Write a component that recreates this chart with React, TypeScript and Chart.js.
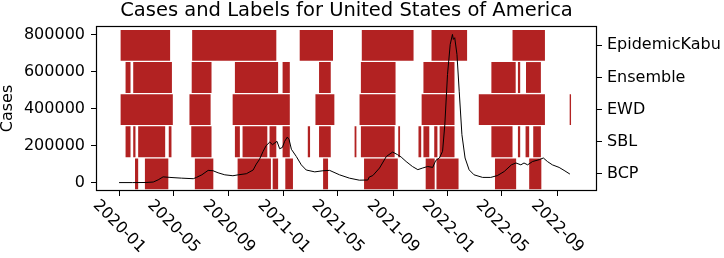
import React, { useEffect, useRef } from 'react';
import { Chart, registerables } from 'chart.js';

Chart.register(...registerables);

const FONT = '"DejaVu Sans", "Liberation Sans", sans-serif';

const chartTitle = 'Cases and Labels for United States of America';
const leftAxisTitle = 'Cases';
const rowLabels = ['BCP', 'SBL', 'EWD', 'Ensemble', 'EpidemicKabu'];
const caseTicks = [0, 200000, 400000, 600000, 800000];
const xTickLabels = ['2020-01', '2020-05', '2020-09', '2021-01', '2021-05', '2021-09', '2022-01', '2022-05', '2022-09'];
const xRange = ['2019-11-13', '2022-11-26'];

// Daily cases (7-day average), days counted from 2020-01-01
const caseDays = [
  0, 30, 60, 76, 87, 98, 113, 139, 165, 172, 184, 198, 209, 220, 235, 253, 265, 283, 298,
  305, 312, 320, 327, 335, 341, 351, 357, 363, 368, 374, 378, 383, 394, 405, 416, 435, 453,
  468, 490, 512, 534, 553, 556, 564, 579, 594, 608, 619, 627, 638, 652, 664, 675, 686, 697,
  704, 712, 719, 724, 730, 736, 741, 743, 746, 751, 756, 762, 769, 778, 789, 808, 826, 841,
  856, 872, 882, 893, 900, 908, 919, 934, 943, 952, 963, 978, 989, 1002,
];
const caseValues = [
  0, 0, 500, 3000, 15000, 31000, 28000, 24000, 21000, 28000, 42000, 66000, 64000, 53000, 42000, 37000, 42000, 48000, 68000,
  100000, 125000, 168000, 200000, 219000, 205000, 223000, 183000, 190000, 223000, 246000, 232000, 180000, 141000, 96000, 68000, 58000, 64000,
  66000, 42000, 24000, 13000, 14000, 30000, 38000, 79000, 141000, 165000, 151000, 138000, 114000, 87000, 70000, 79000, 87000, 82000,
  120000, 133000, 169000, 313000, 584000, 747000, 801000, 774000, 783000, 693000, 494000, 259000, 133000, 69000, 42000, 28000, 28000, 38000,
  60000, 96000, 106000, 96000, 106000, 96000, 114000, 124000, 133000, 114000, 96000, 82000, 66000, 46000,
];

const bcpPeriods: [string, string][] = [
  ['2020-02-04', '2020-02-14'], ['2020-02-26', '2020-04-21'], ['2020-06-16', '2020-07-30'],
  ['2020-09-19', '2020-12-05'], ['2020-12-06', '2020-12-21'], ['2021-01-03', '2021-01-23'],
  ['2021-03-28', '2021-04-11'], ['2021-06-27', '2021-09-13'], ['2021-11-11', '2021-12-04'],
  ['2021-12-05', '2022-01-26'], ['2022-04-14', '2022-06-03'], ['2022-06-29', '2022-07-29'],
];
const sblPeriods: [string, string][] = [
  ['2020-01-14', '2020-01-28'], ['2020-01-31', '2020-02-08'], ['2020-02-11', '2020-04-14'],
  ['2020-04-19', '2020-04-28'], ['2020-06-08', '2020-07-26'], ['2020-09-13', '2020-09-27'],
  ['2020-09-30', '2020-11-27'], ['2020-11-29', '2020-12-17'], ['2020-12-28', '2021-01-16'],
  ['2021-02-22', '2021-03-02'], ['2021-03-19', '2021-04-17'], ['2021-06-06', '2021-06-13'],
  ['2021-06-20', '2021-09-06'], ['2021-09-11', '2021-09-18'], ['2021-10-26', '2021-11-04'],
  ['2021-11-06', '2021-11-22'], ['2021-11-30', '2021-12-10'], ['2021-12-12', '2022-01-17'],
  ['2022-04-06', '2022-05-26'], ['2022-06-04', '2022-06-12'], ['2022-06-21', '2022-07-02'],
  ['2022-07-08', '2022-07-28'],
];
const ewdPeriods: [string, string][] = [
  ['2020-01-03', '2020-05-01'], ['2020-06-04', '2020-07-24'], ['2020-09-08', '2021-01-16'],
  ['2021-03-11', '2021-04-25'], ['2021-06-17', '2021-09-08'], ['2021-11-02', '2022-01-17'],
  ['2022-03-09', '2022-08-06'], ['2022-09-27', '2022-10-03'],
];
const ensemblePeriods: [string, string][] = [
  ['2020-01-14', '2020-01-28'], ['2020-01-31', '2020-04-29'], ['2020-06-09', '2020-07-26'],
  ['2020-09-13', '2020-12-21'], ['2020-12-28', '2021-01-16'], ['2021-03-19', '2021-04-17'],
  ['2021-06-20', '2021-09-08'], ['2021-11-06', '2022-01-17'], ['2022-04-06', '2022-06-02'],
  ['2022-06-04', '2022-06-12'], ['2022-06-22', '2022-07-28'],
];
const epidemicKabuPeriods: [string, string][] = [
  ['2020-01-03', '2020-04-25'], ['2020-06-10', '2020-12-17'], ['2021-02-04', '2021-04-22'],
  ['2021-06-22', '2021-10-18'], ['2021-11-24', '2022-02-14'], ['2022-05-23', '2022-08-06'],
];

const EPOCH = Date.UTC(2020, 0, 1);
const toDay = (s: string) => {
  const [y, m, d] = s.split('-').map(Number);
  return (Date.UTC(y, m - 1, d) - EPOCH) / 86400000;
};

const framePlugin = {
  id: 'frame',
  afterDatasetsDraw(chart: any) {
    const { ctx, chartArea } = chart;
    const { left, top, right, bottom } = chartArea;
    ctx.save();
    ctx.strokeStyle = '#000';
    ctx.lineWidth = 1.2;
    ctx.strokeRect(left - 0.5, top - 0.5, right - left + 1, bottom - top + 1);
    ctx.restore();
  },
};

const xLabelPlugin = {
  id: 'xRotatedLabels',
  afterDraw(chart: any) {
    const s = chart.scales.x;
    const ctx = chart.ctx;
    ctx.save();
    ctx.font = `16px ${FONT}`;
    ctx.fillStyle = '#000';
    ctx.textAlign = 'center';
    ctx.textBaseline = 'middle';
    s.ticks.forEach((t: any, i: number) => {
      const px = s.getPixelForValue(t.value);
      ctx.save();
      ctx.translate(px, s.top + 36.5);
      ctx.rotate(Math.PI / 4);
      ctx.fillText(xTickLabels[i], 0, 0);
      ctx.restore();
    });
    ctx.restore();
  },
};

export default function App() {
  const ref = useRef<HTMLCanvasElement | null>(null);

  useEffect(() => {
    if (!ref.current) return;
    const rows = [bcpPeriods, sblPeriods, ewdPeriods, ensemblePeriods, epidemicKabuPeriods];
    const barData = rows.flatMap((periods, i) =>
      periods.map(([s, e]) => ({ y: i, x: [toDay(s), toDay(e)] }))
    );
    const lineData = caseDays.map((d, i) => ({ x: d, y: caseValues[i] }));

    const chart = new Chart(ref.current, {
      type: 'line',
      data: {
        datasets: [
          {
            type: 'line',
            label: 'Cases',
            data: lineData as any,
            xAxisID: 'x',
            yAxisID: 'y',
            borderColor: '#000',
            borderWidth: 1,
            pointRadius: 0,
            tension: 0,
            fill: false,
            order: 0,
          } as any,
          {
            type: 'bar',
            label: 'Labels',
            data: barData as any,
            indexAxis: 'y',
            xAxisID: 'x',
            yAxisID: 'y2',
            backgroundColor: '#b22222',
            borderColor: '#ffffff',
            borderWidth: 1,
            borderSkipped: false,
            barPercentage: 1,
            categoryPercentage: 1,
            grouped: false,
            order: 1,
          } as any,
        ],
      },
      options: {
        responsive: false,
        animation: false,
        devicePixelRatio: 1,
        layout: { padding: 0 },
        plugins: {
          legend: { display: false },
          tooltip: { enabled: false },
          title: {
            display: true,
            text: chartTitle,
            color: '#000',
            fullSize: false,
            font: { family: FONT, size: 19.5, weight: 'normal', lineHeight: 1.1 },
            padding: { top: 0, bottom: 5.55 },
          },
        },
        scales: {
          x: {
            type: 'linear',
            position: 'bottom',
            min: toDay(xRange[0]),
            max: toDay(xRange[1]),
            afterBuildTicks: (s: any) => {
              s.ticks = xTickLabels.map((l) => ({ value: toDay(l + '-01') }));
            },
            afterFit: (s: any) => {
              s.height = 68;
            },
            ticks: { display: false },
            grid: { drawOnChartArea: false, drawTicks: true, tickLength: 6, tickColor: '#000', color: '#000' },
            border: { display: false },
          },
          y: {
            type: 'linear',
            position: 'left',
            min: -40050,
            max: 841050,
            afterBuildTicks: (s: any) => {
              s.ticks = caseTicks.map((v) => ({ value: v }));
            },
            afterFit: (s: any) => {
              s.width = 97;
            },
            ticks: {
              color: '#000',
              font: { family: FONT, size: 16 },
              padding: 6,
              callback: (v: any) => String(v),
            },
            grid: { drawOnChartArea: false, drawTicks: true, tickLength: 6, tickColor: '#000', color: '#000' },
            border: { display: false },
            title: {
              display: true,
              text: leftAxisTitle,
              color: '#000',
              font: { family: FONT, size: 16, lineHeight: 1 },
              padding: { top: 0, bottom: 0 },
            },
          },
          y2: {
            type: 'linear',
            axis: 'y',
            position: 'right',
            min: -0.5,
            max: 4.57,
            offset: false,
            afterBuildTicks: (s: any) => {
              s.ticks = rowLabels.map((_, i) => ({ value: i }));
            },
            afterFit: (s: any) => {
              s.width = 128;
            },
            ticks: {
              color: '#000',
              font: { family: FONT, size: 16 },
              padding: 5,
              callback: (v: any) => rowLabels[Math.round(Number(v))],
            },
            grid: { drawOnChartArea: false, offset: false, drawTicks: true, tickLength: 6, tickColor: '#000', color: '#000' },
            border: { display: false },
          },
        } as any,
      },
      plugins: [framePlugin, xLabelPlugin],
    } as any);

    return () => chart.destroy();
  }, []);

  return (
    <div style={{ position: 'absolute', left: 0, top: 0, width: 724, height: 258, background: '#fff' }}>
      <canvas ref={ref} width={724} height={258} style={{ width: 724, height: 258, display: 'block' }} />
    </div>
  );
}
